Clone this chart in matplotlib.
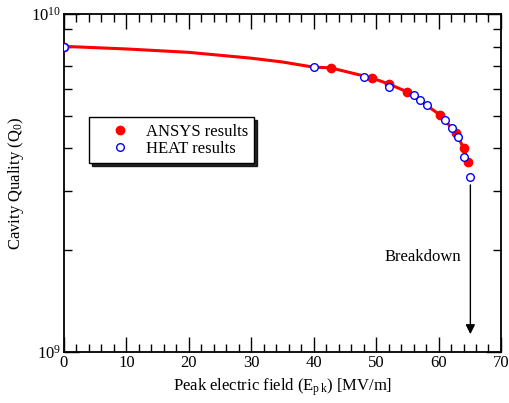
import numpy as np
import matplotlib
matplotlib.use("Agg")
import matplotlib.pyplot as plt
from matplotlib.ticker import LogLocator, NullFormatter, MultipleLocator

plt.rcParams['font.family'] = ['Liberation Serif', 'DejaVu Serif']
plt.rcParams['mathtext.fontset'] = 'custom'
plt.rcParams['mathtext.rm'] = 'Liberation Serif'
plt.rcParams['mathtext.it'] = 'Liberation Serif:italic'
plt.rcParams['font.size'] = 12

# ANSYS results (filled red)
ansys_e = [0, 42.7, 49.3, 52.1, 55.0, 60.3, 62.8, 64.0, 64.7]
ansys_q = [8.0e9, 6.93e9, 6.47e9, 6.2e9, 5.88e9, 5.02e9, 4.44e9, 4.02e9, 3.66e9]

# red curve through the results
curve_e = [0, 10, 20, 30, 35, 40, 42.7, 49.3, 52.1, 55.0, 60.3, 62.8, 64.0, 64.7]
curve_q = [8.02e9, 7.88e9, 7.70e9, 7.40e9, 7.21e9, 6.96e9, 6.93e9, 6.47e9, 6.2e9, 5.88e9,
           5.02e9, 4.44e9, 4.02e9, 3.66e9]

# HEAT results (open blue)
heat_e = [0, 40.0, 48.1, 52.1, 56.1, 57.1, 58.1, 61.1, 62.1, 63.1, 64.0, 65.1]
heat_q = [8.0e9, 6.98e9, 6.52e9, 6.10e9, 5.75e9, 5.57e9, 5.37e9, 4.86e9, 4.60e9, 4.34e9, 3.78e9, 3.30e9]

fig = plt.figure(figsize=(5.09, 4.03), dpi=100)
ax = fig.add_axes([0.1257, 0.1266, 0.8585, 0.8387])

ax.plot(curve_e, curve_q, color='red', lw=2.2, zorder=2)
ax.plot(ansys_e, ansys_q, 'o', color='red', ms=6, mec='red', zorder=3, label='ANSYS results')
ax.plot(heat_e, heat_q, 'o', mfc='white', mec='blue', mew=1, ms=5.5, zorder=4, label='HEAT results')

# breakdown arrow
ax.annotate('', xy=(65.1, 1.108e9), xytext=(65.1, 3.18e9),
            arrowprops=dict(arrowstyle='-|>', color='black', lw=1, mutation_scale=14))
ax.text(63.7, 1.91e9, 'Breakdown', ha='right', va='center', fontsize=12)

ax.set_yscale('log')
ax.set_xlim(0, 70)
ax.set_ylim(1e9, 1e10)
ax.xaxis.set_major_locator(MultipleLocator(10))
ax.xaxis.set_minor_locator(MultipleLocator(2))
ax.yaxis.set_major_locator(LogLocator(base=10))
ax.yaxis.set_minor_locator(LogLocator(base=10, subs=np.arange(2, 10)))
ax.yaxis.set_minor_formatter(NullFormatter())

ax.tick_params(which='both', direction='in', top=True, right=True, labelsize=12, width=1)
ax.tick_params(which='major', length=11, pad=2)
ax.tick_params(which='minor', length=6)
for s in ax.spines.values():
    s.set_linewidth(1.3)

ax.set_xlabel('Peak electric field (E$_{\\mathrm{p\\,k}}$) [MV/m]', fontsize=12)
ax.set_ylabel('Cavity Quality (Q$_\\mathrm{0}$)', fontsize=12)

leg = ax.legend(loc='upper left', bbox_to_anchor=(0.057, 0.695), borderaxespad=0,
                frameon=True, fancybox=False, shadow={'color': 'black', 'alpha': 0.85},
                edgecolor='black', fontsize=12, handletextpad=0.1, borderpad=0.4,
                labelspacing=0.05, handlelength=2.9)
leg.get_frame().set_linewidth(1)

fig.savefig('out.png', dpi=100)
